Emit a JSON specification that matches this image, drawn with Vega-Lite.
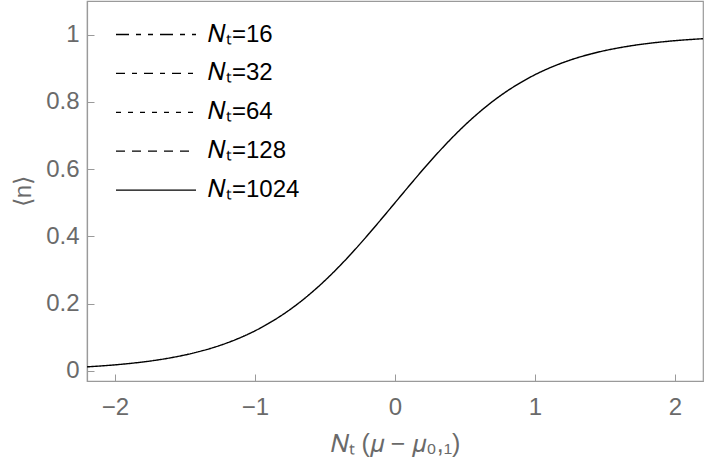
{
  "$schema": "https://vega.github.io/schema/vega-lite/v6.json",
  "width": 616,
  "height": 380,
  "autosize": {"type": "none"},
  "padding": {"left": 87, "top": 1, "right": 3, "bottom": 86},
  "config": {
    "view": {"stroke": "#9a9a9a", "strokeWidth": 1.2},
    "font": "Liberation Sans"
  },
  "data": {
    "values": [
      {"x": -2.2, "n": 0.0121, "series": "1024"},
      {"x": -2.1, "n": 0.0148, "series": "1024"},
      {"x": -2.0, "n": 0.0180, "series": "1024"},
      {"x": -1.9, "n": 0.0219, "series": "1024"},
      {"x": -1.8, "n": 0.0266, "series": "1024"},
      {"x": -1.7, "n": 0.0323, "series": "1024"},
      {"x": -1.6, "n": 0.0392, "series": "1024"},
      {"x": -1.5, "n": 0.0474, "series": "1024"},
      {"x": -1.4, "n": 0.0573, "series": "1024"},
      {"x": -1.3, "n": 0.0691, "series": "1024"},
      {"x": -1.2, "n": 0.0832, "series": "1024"},
      {"x": -1.1, "n": 0.0998, "series": "1024"},
      {"x": -1.0, "n": 0.1192, "series": "1024"},
      {"x": -0.9, "n": 0.1419, "series": "1024"},
      {"x": -0.8, "n": 0.1680, "series": "1024"},
      {"x": -0.7, "n": 0.1978, "series": "1024"},
      {"x": -0.6, "n": 0.2315, "series": "1024"},
      {"x": -0.5, "n": 0.2689, "series": "1024"},
      {"x": -0.4, "n": 0.3100, "series": "1024"},
      {"x": -0.3, "n": 0.3543, "series": "1024"},
      {"x": -0.2, "n": 0.4013, "series": "1024"},
      {"x": -0.1, "n": 0.4502, "series": "1024"},
      {"x": 0.0, "n": 0.5000, "series": "1024"},
      {"x": 0.1, "n": 0.5498, "series": "1024"},
      {"x": 0.2, "n": 0.5987, "series": "1024"},
      {"x": 0.3, "n": 0.6457, "series": "1024"},
      {"x": 0.4, "n": 0.6900, "series": "1024"},
      {"x": 0.5, "n": 0.7311, "series": "1024"},
      {"x": 0.6, "n": 0.7685, "series": "1024"},
      {"x": 0.7, "n": 0.8022, "series": "1024"},
      {"x": 0.8, "n": 0.8320, "series": "1024"},
      {"x": 0.9, "n": 0.8581, "series": "1024"},
      {"x": 1.0, "n": 0.8808, "series": "1024"},
      {"x": 1.1, "n": 0.9002, "series": "1024"},
      {"x": 1.2, "n": 0.9168, "series": "1024"},
      {"x": 1.3, "n": 0.9309, "series": "1024"},
      {"x": 1.4, "n": 0.9427, "series": "1024"},
      {"x": 1.5, "n": 0.9526, "series": "1024"},
      {"x": 1.6, "n": 0.9608, "series": "1024"},
      {"x": 1.7, "n": 0.9677, "series": "1024"},
      {"x": 1.8, "n": 0.9734, "series": "1024"},
      {"x": 1.9, "n": 0.9781, "series": "1024"},
      {"x": 2.0, "n": 0.9820, "series": "1024"},
      {"x": 2.1, "n": 0.9852, "series": "1024"},
      {"x": 2.2, "n": 0.9879, "series": "1024"}
    ]
  },
  "mark": {"type": "line", "color": "black", "strokeWidth": 1.4, "interpolate": "monotone", "clip": true},
  "encoding": {
    "x": {
      "field": "x",
      "type": "quantitative",
      "scale": {"domain": [-2.2, 2.2], "nice": false, "zero": false},
      "axis": {
        "values": [-2, -1, 0, 1, 2],
        "format": "~g",
        "grid": false,
        "domainColor": "#9a9a9a",
        "domainWidth": 1.2,
        "tickColor": "#9a9a9a",
        "tickSize": -7,
        "labelPadding": 21,
        "labelFontSize": 24,
        "labelColor": "#6a6a6a",
        "title": "𝑁ₜ (𝜇 − 𝜇₀,₁)",
        "titleFontSize": 25,
        "titleFontWeight": "normal",
        "titleColor": "#6a6a6a",
        "titlePadding": 12
      }
    },
    "y": {
      "field": "n",
      "type": "quantitative",
      "scale": {"domain": [-0.03, 1.1], "nice": false, "zero": false},
      "axis": {
        "values": [0, 0.2, 0.4, 0.6, 0.8, 1],
        "format": "~g",
        "grid": false,
        "domainColor": "#9a9a9a",
        "domainWidth": 1.2,
        "tickColor": "#9a9a9a",
        "tickSize": -7,
        "labelPadding": 15,
        "labelFontSize": 24,
        "labelColor": "#6a6a6a",
        "title": "⟨n⟩",
        "titleFontSize": 24,
        "titleFontWeight": "normal",
        "titleColor": "#6a6a6a",
        "titlePadding": 10
      }
    },
    "strokeDash": {
      "field": "series",
      "type": "nominal",
      "scale": {
        "domain": ["16", "32", "64", "128", "1024"],
        "range": [[13, 7, 5, 7, 5, 7], [9, 7, 5, 7], [5, 7], [9, 7], [1, 0]]
      },
      "legend": {
        "orient": "none",
        "legendX": 57,
        "legendY": 21.5,
        "title": null,
        "padding": 0,
        "symbolType": "M-4,0H4",
        "symbolSize": 400,
        "symbolStrokeColor": "black",
        "symbolStrokeWidth": 1.3,
        "labelExpr": "'𝑁ₜ=' + datum.label",
        "labelFontSize": 24,
        "labelColor": "black",
        "labelOffset": 40,
        "rowPadding": 14.9
      }
    }
  }
}
